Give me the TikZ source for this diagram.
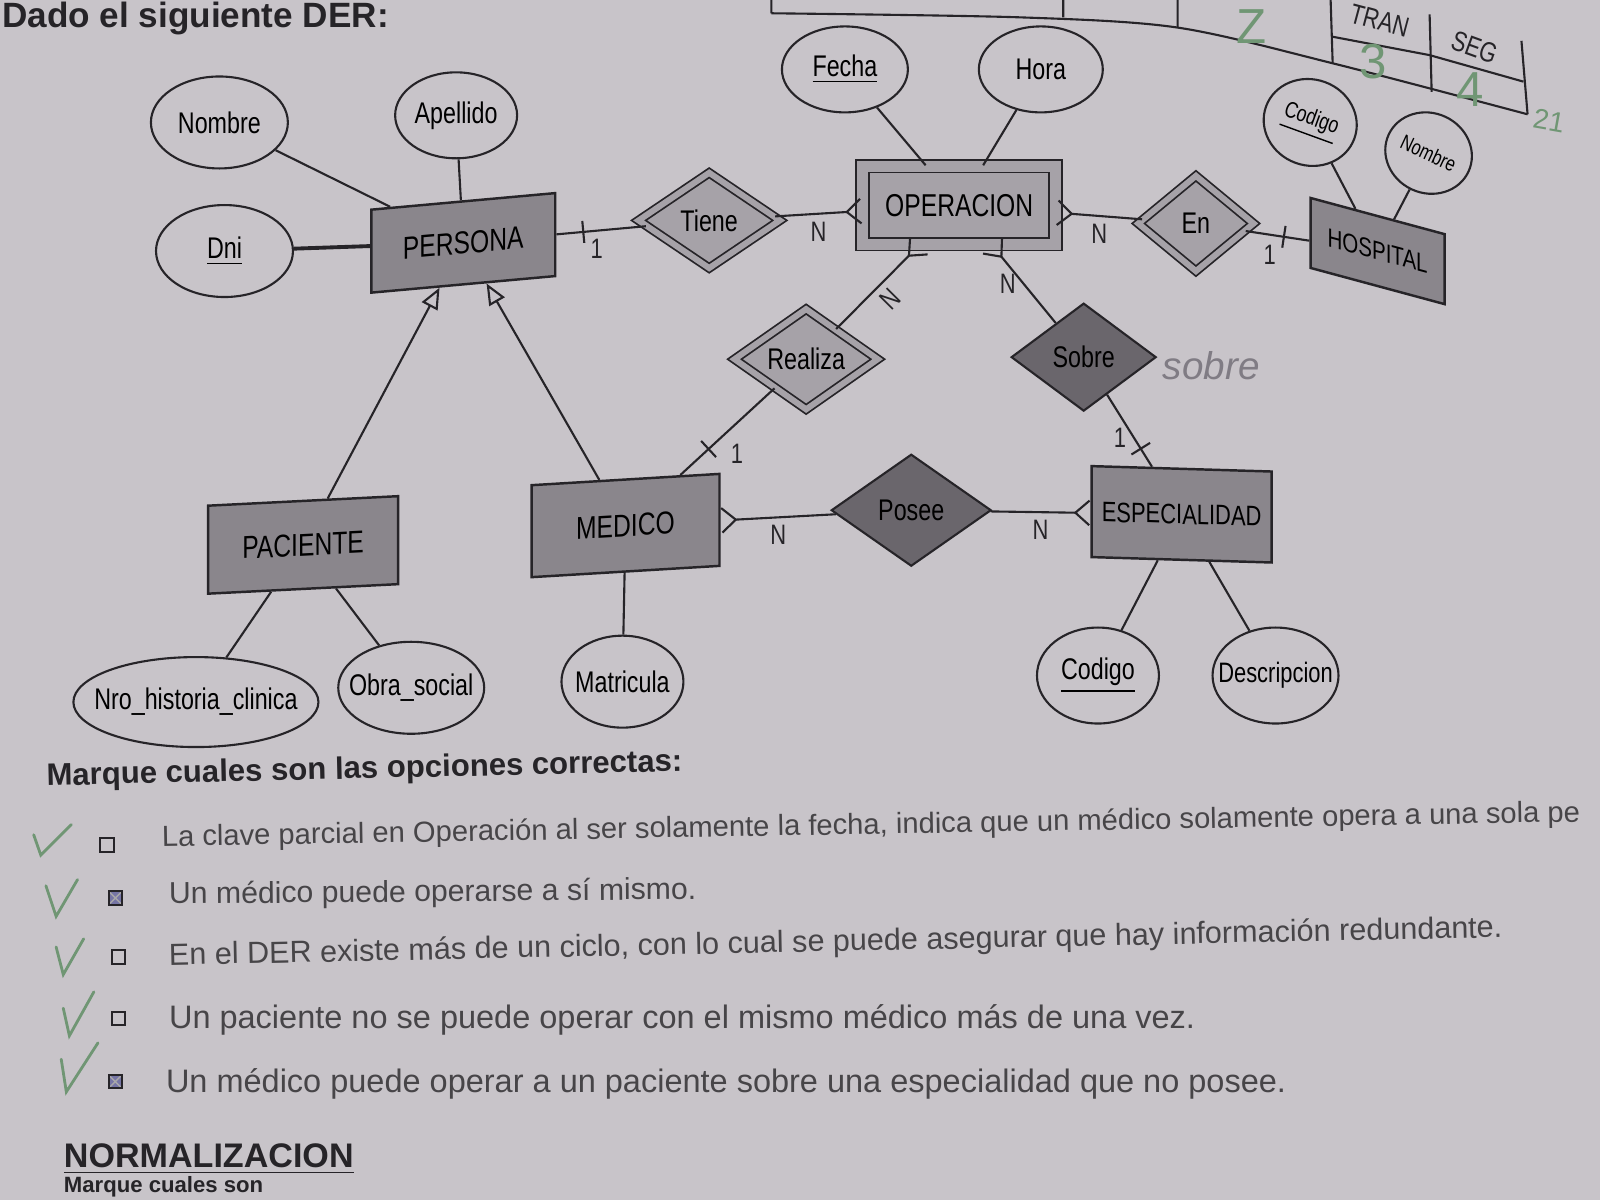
\documentclass[tikz,border=0pt]{standalone}
\usepackage{fontspec}
\setmainfont{Liberation Sans}
\newfontfamily\erfont{Liberation Sans}[FakeStretch=0.78]
\usetikzlibrary{shapes.geometric,arrows.meta,positioning}
\definecolor{paper}{RGB}{200,196,201}
\definecolor{entgrey}{RGB}{138,134,140}
\definecolor{wkgrey}{RGB}{166,162,168}
\definecolor{relgrey}{RGB}{106,102,108}
\definecolor{ink}{RGB}{38,36,40}
\definecolor{pen}{RGB}{112,150,116}
\definecolor{pencil}{RGB}{128,124,132}

\begin{document}
\begin{tikzpicture}[x=0.010204cm,y=-0.010204cm]

\tikzset{entity/.style={draw=ink,fill=entgrey,line width=.7pt,inner sep=0pt,font=\erfont\fontsize{9}{10}\selectfont},
weakentity/.style={entity,fill=wkgrey,double=wkgrey,double distance=1.1mm,line width=.5pt},
rel/.style={shape=diamond,draw=ink,fill=relgrey,line width=.6pt,inner sep=0pt,font=\erfont\fontsize{8.5}{10}\selectfont},
weakrel/.style={rel,fill=wkgrey,double=wkgrey,double distance=.6mm,line width=.5pt},
attr/.style={shape=ellipse,draw=ink,line width=.6pt,inner xsep=-1.5mm,inner ysep=0pt,font=\erfont\fontsize{8.5}{10}\selectfont},
link/.style={draw=ink,line width=.6pt},
many/.style={-{Straight Barb[reversed,length=4pt,width=7pt]}},
isa/.style={-{Triangle[open,length=6pt,width=5pt]}},
onetick/.style={draw=ink,line width=.6pt,inner sep=0pt,minimum width=0pt,minimum height=2.2mm,sloped},
card/.style={font=\erfont\fontsize{8}{9}\selectfont,text=ink,inner sep=2pt},
qtext/.style={anchor=west,text=ink!85,inner sep=0pt},
qbox/.style={draw=ink,line width=.6pt,minimum size=1.35mm,inner sep=0pt},
qmarked/.style={qbox,fill=ink!70!blue!60,path picture={\draw[ink!40,line width=.4pt] (path picture bounding box.south west) -- (path picture bounding box.north east) (path picture bounding box.north west) -- (path picture bounding box.south east);}}}

\fill[paper] (0,0) rectangle (1568,1176);
\useasboundingbox (0,0) rectangle (1568,1176);

% Header and grade table
\node[anchor=west,text=ink,font=\bfseries\fontsize{10}{12}\selectfont] (title) at (-10,18) {Dado el siguiente DER:};
\draw[ink,line width=.6pt] plot[smooth] coordinates {(756,13) (1000,17) (1154,27) (1306,62) (1497,112)};
\draw[ink,line width=.6pt] (756,0) -- (756,13) (1042,0) -- (1042,17) (1154,0) -- (1154,27) (1304,0) -- (1306,62) (1401,14) -- (1403,90) (1491,40) -- (1497,112);
\draw[ink,line width=.6pt] (1306,36) -- (1401,54) -- (1493,80);
\node[text=ink,font=\erfont\fontsize{8}{9}\selectfont,rotate=-15] (tran) at (1352,20) {TRAN};
\node[text=ink,font=\erfont\fontsize{8}{9}\selectfont,rotate=-20] (seg) at (1445,46) {SEG};
\node[text=pen,font=\fontsize{14}{14}\selectfont] (g2) at (1226,26) {Z};
\node[text=pen,font=\fontsize{14}{14}\selectfont] (g3) at (1346,60) {3};
\node[text=pen,font=\fontsize{14}{14}\selectfont] (g4) at (1441,88) {4};
\node[text=pen,font=\fontsize{8}{8}\selectfont,rotate=-10] (g21) at (1518,118) {21};

% Entities
\node[entity,minimum width=18.4mm,minimum height=8.3mm,yslant=0.09] (persona) at (454,238) {PERSONA};
\node[weakentity,minimum width=19.3mm,minimum height=7.8mm] (operacion) at (940,201) {OPERACION};
\node[entity,minimum width=13.4mm,minimum height=7mm,yslant=-0.27,font=\erfont\fontsize{7.5}{9}\selectfont] (hospital) at (1350,246) {HOSPITAL};
\node[entity,minimum width=19mm,minimum height=8.8mm,yslant=0.05] (paciente) at (297,534) {PACIENTE};
\node[entity,minimum width=18.8mm,minimum height=9.2mm,yslant=0.06] (medico) at (613,515) {MEDICO};
\node[entity,minimum width=18mm,minimum height=9.1mm,yslant=-0.03,font=\erfont\fontsize{8}{9}\selectfont] (especialidad) at (1158,504) {ESPECIALIDAD};

% Relationships
\node[weakrel,minimum width=14.2mm,minimum height=9.6mm] (tiene) at (695,216) {Tiene};
\node[weakrel,minimum width=11.6mm,minimum height=9.6mm] (en) at (1172,219) {En};
\node[weakrel,minimum width=14.4mm,minimum height=10.1mm] (realiza) at (790,352) {Realiza};
\node[rel,minimum width=14.5mm,minimum height=10.8mm] (sobre) at (1062,350) {Sobre};
\node[rel,minimum width=16mm,minimum height=11.2mm] (posee) at (893,500) {Posee};
\node[text=pencil,font=\itshape\fontsize{11}{12}\selectfont] (sobrenote) at (1187,358) {sobre};

% Attributes
\node[attr,minimum width=13.7mm,minimum height=9.2mm] (nombre) at (215,120) {Nombre};
\node[attr,minimum width=12.2mm,minimum height=8.6mm] (apellido) at (447,113) {Apellido};
\node[attr,minimum width=13.7mm,minimum height=9.2mm] (dni) at (220,246) {\underline{Dni}};
\node[attr,minimum width=12.6mm,minimum height=8.6mm] (fecha) at (828,68) {\underline{Fecha}};
\node[attr,minimum width=12.4mm,minimum height=8.6mm] (hora) at (1020,68) {Hora};
\node[attr,minimum width=9.4mm,minimum height=8.6mm,rotate=-20,font=\erfont\fontsize{6.5}{8}\selectfont] (codigoh) at (1284,120) {\underline{Codigo}};
\node[attr,minimum width=8.8mm,minimum height=8mm,rotate=-25,font=\erfont\fontsize{6}{8}\selectfont] (nombreh) at (1400,150) {Nombre};
\node[attr,minimum width=24mm,minimum height=9mm] (nrohist) at (192,688) {Nro\_historia\_clinica};
\node[attr,minimum width=14.6mm,minimum height=9.2mm] (obrasocial) at (403,674) {Obra\_social};
\node[attr,minimum width=12.2mm,minimum height=9.2mm] (matricula) at (610,668) {Matricula};
\node[attr,minimum width=12.2mm,minimum height=9.6mm] (codigoe) at (1076,662) {\underline{Codigo}};
\node[attr,minimum width=12.6mm,minimum height=9.6mm,font=\erfont\fontsize{8}{10}\selectfont] (descripcion) at (1250,662) {Descripcion};

% Attribute edges
\draw[link] (nombre) -- (persona); \draw[link] (apellido) -- (persona); \draw[link,line width=1.1pt] (dni) -- (persona);
\draw[link] (fecha) -- (operacion); \draw[link] (hora) -- (operacion);
\draw[link] (codigoh) -- (hospital); \draw[link] (nombreh) -- (hospital);
\draw[link] (nrohist) -- (paciente); \draw[link] (obrasocial) -- (paciente); \draw[link] (matricula) -- (medico);
\draw[link] (codigoe) -- (especialidad); \draw[link] (descripcion) -- (especialidad);

% Relationship edges
\draw[link] (persona) -- node[pos=.3,onetick]{} node[pos=.45,below,card]{1} (tiene);
\draw[link,many] (tiene) -- node[pos=.5,below,card]{N} (operacion);
\draw[link,many] (en) -- node[pos=.5,below,card]{N} (operacion);
\draw[link] (en) -- node[pos=.6,onetick]{} node[pos=.6,below left,card]{1} (hospital);
\draw[link,many] (realiza) -- node[pos=.5,sloped,below,card]{N} (operacion);
\draw[link] (realiza) -- node[pos=.7,onetick]{} node[pos=.55,below right,card]{1} (medico);
\draw[link,many] (sobre) -- node[pos=.5,left,card]{N} (operacion);
\draw[link] (sobre) -- node[pos=.75,onetick]{} node[pos=.6,left,card]{1} (especialidad);
\draw[link,isa] (paciente) -- (persona); \draw[link,isa] (medico) -- (persona);
\draw[link,many] (posee) -- node[pos=.5,below,card]{N} (medico);
\draw[link,many] (posee) -- node[pos=.5,below,card]{N} (especialidad);

% Questions
\node[anchor=west,text=ink,font=\bfseries\fontsize{8.85}{10}\selectfont,rotate=1.3,inner sep=0pt] (marque) at (45,762) {Marque cuales son las opciones correctas:};
\node[qbox] (box1) at (105,828) {}; \node[qmarked] (box2) at (113,880) {}; \node[qbox] (box3) at (116,938) {}; \node[qbox] (box4) at (116,998) {}; \node[qmarked] (box5) at (113,1060) {};
\node[qtext,rotate=1,font=\fontsize{8.3}{10}\selectfont] (q1) at (158,822) {La clave parcial en Operación al ser solamente la fecha, indica que un médico solamente opera a una sola pe};
\node[qtext,rotate=.5,font=\fontsize{8.6}{10}\selectfont] (q2) at (165,878) {Un médico puede operarse a sí mismo.};
\node[qtext,rotate=1.2,font=\fontsize{8.7}{10}\selectfont] (q3) at (165,938) {En el DER existe más de un ciclo, con lo cual se puede asegurar que hay información redundante.};
\node[qtext,font=\fontsize{9.25}{11}\selectfont] (q4) at (165,999) {Un paciente no se puede operar con el mismo médico más de una vez.};
\node[qtext,font=\fontsize{9.25}{11}\selectfont] (q5) at (162,1062) {Un médico puede operar a un paciente sobre una especialidad que no posee.};
\foreach \a/\b/\c/\d/\e/\f in {33/818/40/838/70/808, 45/868/55/898/76/862, 55/928/62/955/82/920, 62/988/68/1015/92/972, 60/1038/65/1070/96/1022}
  \draw[pen,line width=.8pt,line cap=round] (\a,\b) -- (\c,\d) -- (\e,\f); % check marks
\node[anchor=west,text=ink,font=\bfseries\fontsize{9.7}{12}\selectfont,inner sep=0pt] (norm) at (62,1136) {\underline{NORMALIZACION}};
\node[anchor=base west,text=ink,font=\bfseries\fontsize{6.3}{8}\selectfont,inner sep=0pt] (marque2) at (62,1169) {Marque cuales son};

\end{tikzpicture}
\end{document}
